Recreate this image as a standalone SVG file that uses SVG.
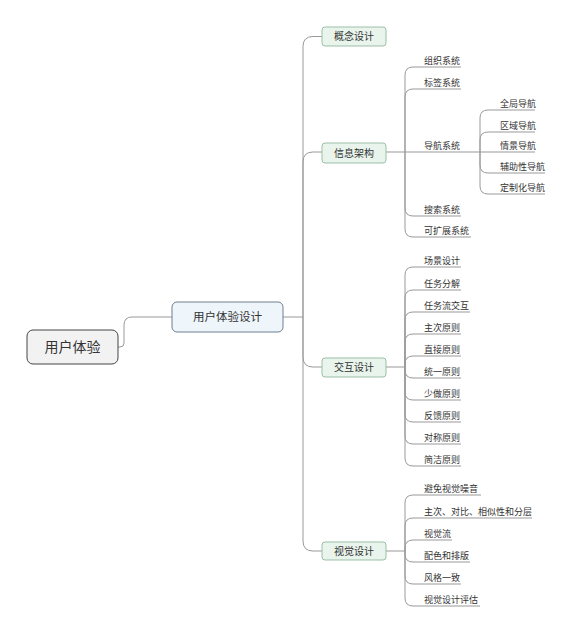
<svg xmlns="http://www.w3.org/2000/svg" width="573" height="633" viewBox="0 0 573 633">
<style>
text{font-family:"Noto Sans CJK SC","Noto Sans",sans-serif;fill:#333}
.leaf{font-size:9px}
.ln{fill:none;stroke:#999;stroke-width:1}
.g rect{fill:#e8f4ec;stroke:#9dbfa9;stroke-width:1}
.g text{font-size:10px;text-anchor:middle}
</style>
<rect width="573" height="633" fill="#fff"/>
<g id="connectors" class="ln">
<path d="M118 347H120Q124 347 124 343V325Q124 317 132 317H172"/>
<path d="M283 317H303"/>
<path d="M303 317V46.5Q303 36.5 313 36.5H322"/>
<path d="M303 317V162Q303 152 313 152H322"/>
<path d="M303 317V357Q303 367 313 367H322"/>
<path d="M303 317V541Q303 551 313 551H322"/>
<!-- info arch -->
<path d="M386 152H480"/>
<path d="M405 152V75Q405 67 413 67H461"/>
<path d="M405 152V97Q405 89 413 89H461"/>
<path d="M405 152V208Q405 216 413 216H461"/>
<path d="M405 152V229Q405 237 413 237H471"/>
<path d="M480 152V118Q480 110 488 110H535"/>
<path d="M480 152V140Q480 132 488 132H535"/>
<path d="M480 152H535"/>
<path d="M480 152V165Q480 173 488 173H545"/>
<path d="M480 152V186Q480 194 488 194H545"/>
<!-- interaction -->
<path d="M386 367H405"/>
<path d="M405 367V275Q405 267 413 267H461"/>
<path d="M405 367V298Q405 290 413 290H461"/>
<path d="M405 367V320Q405 312 413 312H470"/>
<path d="M405 367V342Q405 334 413 334H461"/>
<path d="M405 367V364Q405 356 413 356H461"/>
<path d="M405 367V370Q405 378 413 378H461"/>
<path d="M405 367V392Q405 400 413 400H461"/>
<path d="M405 367V414Q405 422 413 422H461"/>
<path d="M405 367V436Q405 444 413 444H461"/>
<path d="M405 367V458Q405 466 413 466H461"/>
<!-- visual -->
<path d="M386 551H405"/>
<path d="M405 551V503Q405 495 413 495H481"/>
<path d="M405 551V526Q405 518 413 518H532"/>
<path d="M405 551V548Q405 540 413 540H452"/>
<path d="M405 551V554Q405 562 413 562H470"/>
<path d="M405 551V576Q405 584 413 584H461"/>
<path d="M405 551V598Q405 606 413 606H480"/>
</g>
<g id="root">
<rect x="27" y="330" width="91" height="34" rx="6" fill="#f2f2f2" stroke="#444" stroke-width="1"/>
<text x="72.5" y="352" font-size="14" text-anchor="middle">用户体验</text>
</g>
<g id="center">
<rect x="172" y="302" width="111" height="30" rx="5" fill="#eef5fb" stroke="#6f7f8f" stroke-width="1"/>
<text x="227.5" y="321" font-size="11.5" text-anchor="middle">用户体验设计</text>
</g>
<g id="n-concept" class="g"><rect x="322" y="27" width="64" height="19" rx="3"/><text x="354" y="40">概念设计</text></g>
<g id="n-info" class="g"><rect x="322" y="143" width="64" height="20" rx="3"/><text x="354" y="156.5">信息架构</text></g>
<g id="n-inter" class="g"><rect x="322" y="358" width="64" height="19" rx="3"/><text x="354" y="371">交互设计</text></g>
<g id="n-visual" class="g"><rect x="322" y="542" width="64" height="18" rx="3"/><text x="354" y="555">视觉设计</text></g>
<g id="leaves-info" class="leaf">
<text x="424" y="64">组织系统</text>
<text x="424" y="86">标签系统</text>
<text x="424" y="149">导航系统</text>
<text x="424" y="213">搜索系统</text>
<text x="424" y="234">可扩展系统</text>
<text x="500" y="107">全局导航</text>
<text x="500" y="129">区域导航</text>
<text x="500" y="149">情景导航</text>
<text x="500" y="170">辅助性导航</text>
<text x="500" y="191">定制化导航</text>
</g>
<g id="leaves-inter" class="leaf">
<text x="424" y="264">场景设计</text>
<text x="424" y="287">任务分解</text>
<text x="424" y="309">任务流交互</text>
<text x="424" y="331">主次原则</text>
<text x="424" y="353">直接原则</text>
<text x="424" y="375">统一原则</text>
<text x="424" y="397">少做原则</text>
<text x="424" y="419">反馈原则</text>
<text x="424" y="441">对称原则</text>
<text x="424" y="463">简洁原则</text>
</g>
<g id="leaves-visual" class="leaf">
<text x="424" y="492">避免视觉噪音</text>
<text x="424" y="515">主次、对比、相似性和分层</text>
<text x="424" y="537">视觉流</text>
<text x="424" y="559">配色和排版</text>
<text x="424" y="581">风格一致</text>
<text x="424" y="603">视觉设计评估</text>
</g>
</svg>
